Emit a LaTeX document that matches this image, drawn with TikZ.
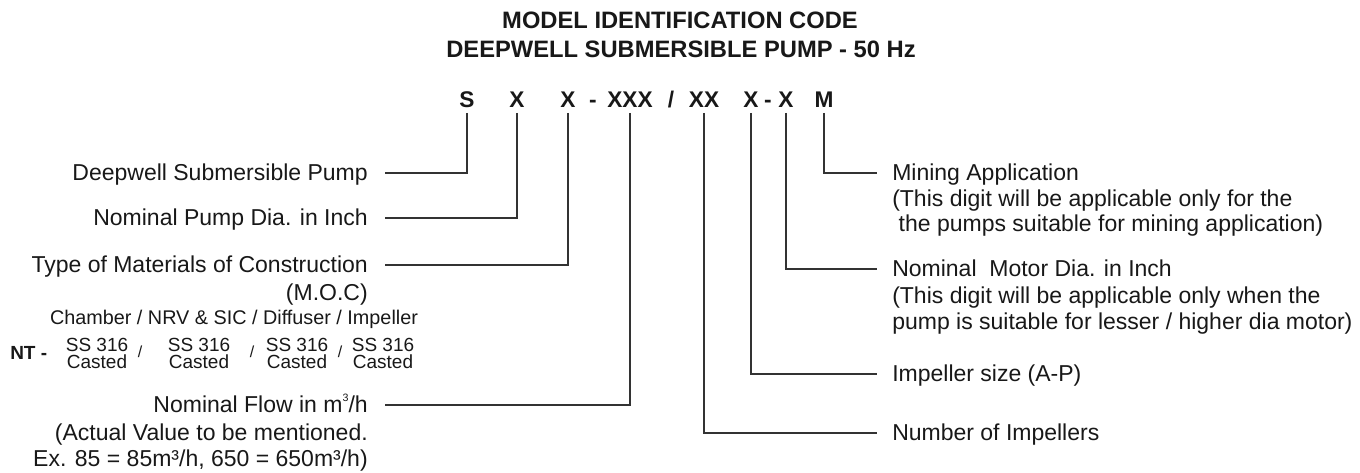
\documentclass[tikz,border=0pt]{standalone}
\usepackage{fontspec}
\setmainfont{Liberation Sans}
\definecolor{ink}{HTML}{181818}
\definecolor{wire}{HTML}{333333}
\newcommand{\mainsz}{\fontsize{17.25}{20}\selectfont}
\newcommand{\smallsz}{\fontsize{14.5}{17}\selectfont}
\newcommand{\cubesup}{\raisebox{0.5em}{\fontsize{8}{8}\selectfont 3}}
\tikzset{
  base/.style={inner sep=0pt, text=ink},
  titletext/.style={base, anchor=base, font=\fontsize{17.8}{21}\selectfont\bfseries},
  codetext/.style={base, anchor=base, font=\fontsize{17}{20}\selectfont\bfseries},
  lbl/.style={base, inner ysep=0pt, text height=12pt, text depth=0pt, font=\mainsz},
  leftlbl/.style={lbl, anchor=east, inner xsep=12.75pt},
  rightlbl/.style={lbl, anchor=west, inner xsep=11.25pt},
  leftnote/.style={base, anchor=base east, font=\mainsz},
  rightnote/.style={base, anchor=base west, font=\mainsz},
  mattext/.style={base, anchor=base, font=\smallsz},
  wireline/.style={draw=wire, line width=0.8pt}
}
\begin{document}
\begin{tikzpicture}[x=0.75pt, y=-0.75pt]
\useasboundingbox (0,0) rectangle (1360,473);
% title
\node[titletext] (t1) at (680,29) {MODEL IDENTIFICATION CODE};
\node[titletext] (t2) at (681,58) {DEEPWELL SUBMERSIBLE PUMP - 50 Hz};
% code row
\node[codetext] (cS) at (467,108) {S};
\node[codetext] (cX1) at (517,108) {X};
\node[codetext] (cX2) at (568,108) {X};
\node[codetext] (d1) at (593,108) {-};
\node[codetext] (cXXX) at (630,108) {XXX};
\node[codetext] (sl) at (671,108) {/};
\node[codetext] (cXX) at (704,108) {XX};
\node[codetext] (cX3) at (751,108) {X};
\node[codetext] (d2) at (768,108) {-};
\node[codetext] (cX4) at (786,108) {X};
\node[codetext] (cM) at (824,108) {M};
% left labels
\node[leftlbl] (lDeep) at (385,173) {Deepwell Submersible Pump};
\node[leftlbl] (lPump) at (385,218) {Nominal Pump Dia. in Inch};
\node[leftlbl] (lMoc) at (385,265) {Type of Materials of Construction};
\node[leftnote] (lMoc2) at (368,301) {(M.O.C)};
\node[mattext, font=\fontsize{14.85}{17}\selectfont] (lCham) at (234,325) {Chamber / NRV \& SIC / Diffuser / Impeller};
\node[base, anchor=base west, font=\fontsize{14.25}{17}\selectfont\bfseries] (nt) at (10,360) {NT -};
\foreach \i/\x in {1/97,2/199,3/297,4/383}{
  \node[mattext, font=\fontsize{14.25}{17}\selectfont] (ss\i) at (\x,352) {SS 316};
  \node[mattext, font=\fontsize{14.25}{17}\selectfont] (ca\i) at (\x,369) {Casted};
}
\foreach \i/\x in {1/140,2/252,3/340}{
  \node[mattext, font=\fontsize{12}{14}\selectfont] (sep\i) at (\x,358) {/};
}
\node[leftlbl] (lFlow) at (385,405) {Nominal Flow in m\cubesup/h};
\node[leftnote] (lFlow2) at (368,441) {(Actual Value to be mentioned.};
\node[leftnote] (lFlow3) at (368,467) {Ex. 85 = 85m³/h, 650 = 650m³/h)};
% right labels
\node[rightlbl] (rMin) at (877,173) {Mining Application};
\node[rightnote] (rMin2) at (892,207) {(This digit will be applicable only for the};
\node[rightnote] (rMin3) at (892,232) {\hspace{0.28em}the pumps suitable for mining application)};
\node[rightlbl] (rMot) at (877,269) {Nominal\ \ Motor Dia. in Inch};
\node[rightnote] (rMot2) at (892,304) {(This digit will be applicable only when the};
\node[rightnote] (rMot3) at (892,330) {pump is suitable for lesser / higher dia motor)};
\node[rightlbl] (rImp) at (877,374) {Impeller size (A-P)};
\node[rightlbl] (rNum) at (877,433) {Number of Impellers};
% connectors
\draw[wireline] ([yshift=-3.75pt]cS.base) |- (lDeep.east);
\draw[wireline] ([yshift=-3.75pt]cX1.base) |- (lPump.east);
\draw[wireline] ([yshift=-3.75pt]cX2.base) |- (lMoc.east);
\draw[wireline] ([yshift=-3.75pt]cXXX.base) |- (lFlow.east);
\draw[wireline] ([yshift=-3.75pt]cXX.base) |- (rNum.west);
\draw[wireline] ([yshift=-3.75pt]cX3.base) |- (rImp.west);
\draw[wireline] ([yshift=-3.75pt]cX4.base) |- (rMot.west);
\draw[wireline] ([yshift=-3.75pt]cM.base) |- (rMin.west);
\end{tikzpicture}
\end{document}
